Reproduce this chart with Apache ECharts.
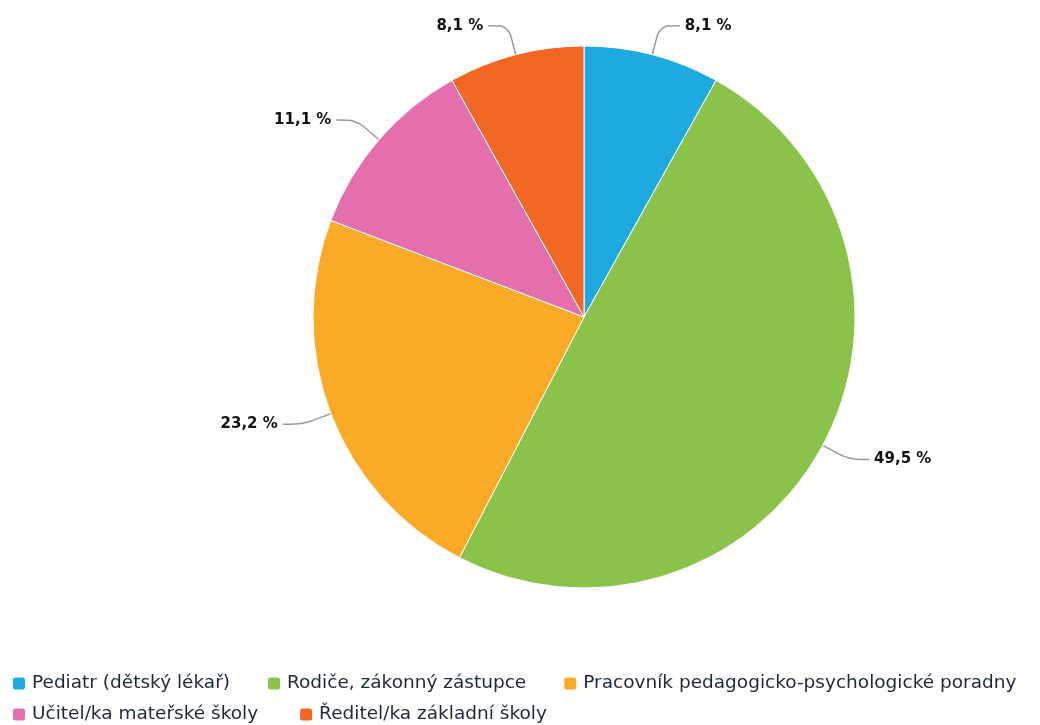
<!DOCTYPE html>
<html><head><meta charset="utf-8">
<script src="https://cdn.jsdelivr.net/npm/echarts@6/dist/echarts.min.js"></script>
<style>html,body{margin:0;padding:0;background:#fff}#c{width:1040px;height:725px}</style>
</head><body><div id="c"></div>
<script>
const categories = ["Pediatr (dětský lékař)", "Rodiče, zákonný zástupce", "Pracovník pedagogicko-psychologické poradny", "Učitel/ka mateřské školy", "Ředitel/ka základní školy"];
const values = [8.1, 49.5, 23.2, 11.1, 8.1];
const colors = ["#1fa9e1", "#8bc34a", "#fbaa27", "#e56fac", "#f26724"];

const legendBase = {
  left: 6,
  itemWidth: 14,
  itemHeight: 14,
  itemGap: 36,
  icon: 'roundRect',
  textStyle: {fontFamily: 'DejaVu Sans', fontSize: 18.5, color: '#1b2940', padding: [0, 0, 0, 1]}
};

const chart = echarts.init(document.getElementById('c'));
chart.setOption({
  animation: false,
  color: colors,
  legend: [
    Object.assign({}, legendBase, {top: 669, data: categories.slice(0, 3)}),
    Object.assign({}, legendBase, {top: 700, itemGap: 40, data: categories.slice(3)})
  ],
  series: [{
    type: 'pie',
    center: [584, 317],
    radius: [0, 271],
    startAngle: 90,
    clockwise: true,
    itemStyle: {borderColor: '#fff', borderWidth: 1},
    label: {
      formatter: p => p.value.toFixed(1).replace('.', ',') + ' %',
      fontFamily: 'DejaVu Sans', fontWeight: 'bold', fontSize: 15, color: '#111'
    },
    labelLine: {length: 30, length2: 20, smooth: 0.3, lineStyle: {color: '#999', width: 1.5}},
    data: categories.map((n, i) => ({name: n, value: values[i]}))
  }]
});
</script></body></html>
